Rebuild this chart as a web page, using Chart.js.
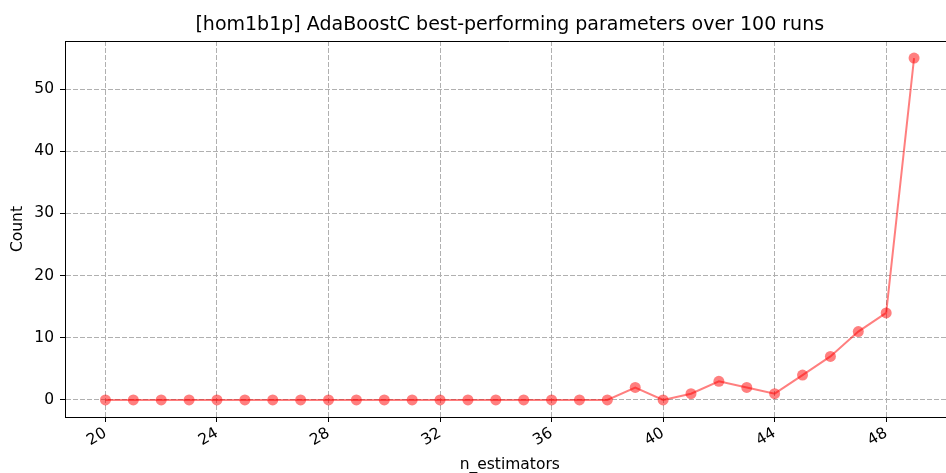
<!DOCTYPE html>
<html>
<head>
<meta charset="utf-8">
<script src="https://cdn.jsdelivr.net/npm/chart.js@4"></script>
<style>
  html, body { margin: 0; padding: 0; background: #fff; overflow: hidden; }
  #wrap { width: 960px; height: 473px; }
</style>
</head>
<body>
<div id="wrap"><canvas id="c" width="960" height="473"></canvas></div>
<script>
// n_estimators values tried and how often each was the best one
const nEstimators = [20,21,22,23,24,25,26,27,28,29,30,31,32,33,34,35,36,37,38,39,40,41,42,43,44,45,46,47,48,49];
const counts      = [0,0,0,0,0,0,0,0,0,0,0,0,0,0,0,0,0,0,0,2,0,1,3,2,1,4,7,11,14,55];
const xTicks = [20,24,28,32,36,40,44,48];
const yTicks = [0,10,20,30,40,50];
const titleText = '[hom1b1p] AdaBoostC best-performing parameters over 100 runs';

const FONT = '"DejaVu Sans", sans-serif';
const TICK_PX = 15.5;

const frame = {
  id: 'frame',
  afterDraw(chart) {
    const {ctx, chartArea: a} = chart;
    ctx.save();
    // top spine
    ctx.strokeStyle = '#000';
    ctx.lineWidth = 1;
    ctx.beginPath();
    ctx.moveTo(a.left, a.top + 0.5);
    ctx.lineTo(a.right, a.top + 0.5);
    ctx.stroke();
    // title
    ctx.fillStyle = '#000';
    ctx.font = '19px ' + FONT;
    ctx.textAlign = 'center';
    ctx.textBaseline = 'alphabetic';
    ctx.fillText(titleText, (a.left + a.right) / 2, 30);
    ctx.restore();
  }
};

new Chart(document.getElementById('c'), {
  type: 'line',
  data: {
    datasets: [{
      data: nEstimators.map((x, i) => ({x, y: counts[i]})),
      borderColor: 'rgba(255,0,0,0.5)',
      backgroundColor: 'rgba(255,0,0,0.5)',
      borderWidth: 2,
      pointRadius: 5.5,
      pointBorderWidth: 0,
      pointBackgroundColor: 'rgba(255,0,0,0.5)',
      tension: 0
    }]
  },
  options: {
    responsive: false,
    animation: false,
    layout: { padding: { left: 0, right: 2, top: 41, bottom: 0 } },
    plugins: { legend: { display: false }, tooltip: { enabled: false }, title: { display: false } },
    scales: {
      x: {
        type: 'linear',
        min: 18.55,
        max: 50.45,
        afterFit(s) { s.height = 56; },
        afterBuildTicks(s) { s.ticks = xTicks.map(v => ({value: v})); },
        ticks: {
          minRotation: 30, maxRotation: 30,
          color: '#000',
          font: { family: FONT, size: TICK_PX },
          padding: 2,
          callback: v => String(v)
        },
        grid: {
          color: '#b0b0b0',
          lineWidth: 1,
          tickColor: '#000',
          tickLength: 5,
          tickBorderDash: [],
          drawTicks: true
        },
        border: { display: true, color: '#000', width: 1, dash: [5, 2] },
        title: {
          display: true, text: 'n_estimators', color: '#000',
          font: { family: FONT, size: TICK_PX },
          padding: { top: 0, bottom: -1 }
        }
      },
      y: {
        type: 'linear',
        min: -2.75,
        max: 57.75,
        afterFit(s) { s.width = 65; },
        afterBuildTicks(s) { s.ticks = yTicks.map(v => ({value: v})); },
        ticks: {
          color: '#000',
          font: { family: FONT, size: TICK_PX },
          padding: 6,
          callback: v => String(v)
        },
        grid: {
          color: '#b0b0b0',
          lineWidth: 1,
          tickColor: '#000',
          tickLength: 5,
          tickBorderDash: []
        },
        border: { display: true, color: '#000', width: 1, dash: [5, 2] },
        title: {
          display: true, text: 'Count', color: '#000',
          font: { family: FONT, size: TICK_PX },
          padding: { top: 9, bottom: 0 }
        }
      }
    }
  },
  plugins: [frame]
});
</script>
</body>
</html>
